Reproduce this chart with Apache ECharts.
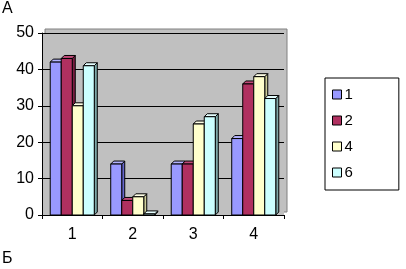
<!DOCTYPE html>
<html><head><meta charset="utf-8">
<script src="https://cdn.jsdelivr.net/npm/echarts@6/dist/echarts.min.js"></script>
<style>html,body{margin:0;padding:0;background:#fff}#c{width:406px;height:269px}</style>
</head><body><div id="c"></div>
<script>
const categories = ['1', '2', '3', '4'];
const seriesNames = ['1', '2', '4', '6'];
const s1 = [42, 14, 14, 21];
const s2 = [43, 4, 14, 36];
const s4 = [30, 5, 25, 38];
const s6 = [41, 0.3, 27, 32];
const yTicks = [0, 10, 20, 30, 40, 50];

const allValues = [s1, s2, s4, s6];
const colors = ['#9999FF', '#B03060', '#FFFFCC', '#CCFFFF'];
const sideColors = ['#6666CC', '#7A1E42', '#CCCC99', '#7FA9A9'];
const topColors = ['#B3B3FF', '#C04A78', '#FFFFE6', '#E6FFFF'];

function makeRender(idx) {
  return function (params, api) {
    const cat = api.value(0), val = api.value(1);
    const base = api.coord([cat, 0]);
    const top = api.coord([cat, val]);
    const band = api.size([1, 0])[0];
    const barW = band * 0.182;
    const x0 = base[0] - barW * 2 + idx * barW;
    const x1 = x0 + barW;
    const d = 3;
    const ty = top[1], by = base[1];
    return {
      type: 'group',
      children: [
        { type: 'polygon', shape: { points: [[x1, ty], [x1 + d, ty - d], [x1 + d, by - d], [x1, by]] },
          style: { fill: sideColors[idx], stroke: '#000', lineWidth: 1 } },
        { type: 'polygon', shape: { points: [[x0, ty], [x0 + d, ty - d], [x1 + d, ty - d], [x1, ty]] },
          style: { fill: topColors[idx], stroke: '#000', lineWidth: 1 } },
        { type: 'rect', shape: { x: x0, y: ty, width: barW, height: by - ty },
          style: { fill: colors[idx], stroke: '#000', lineWidth: 1 } }
      ]
    };
  };
}

const chart = echarts.init(document.getElementById('c'));
chart.setOption({
  animation: false,
  backgroundColor: '#fff',
  textStyle: { fontFamily: 'Liberation Sans, Arial, sans-serif' },
  grid: { left: 42, top: 33, right: 122, bottom: 54, show: true, backgroundColor: '#C0C0C0', borderWidth: 0 },
  graphic: [
    { type: 'rect', z: -10, shape: { x: 45, y: 29, width: 242, height: 183 },
      style: { fill: '#C0C0C0', stroke: '#808080', lineWidth: 1 } },
    { type: 'text', left: 2, top: 1, style: { text: 'А', font: '16px Liberation Sans, Arial', fill: '#000' } },
    { type: 'text', left: 2, top: 251, style: { text: 'Б', font: '16px Liberation Sans, Arial', fill: '#000' } }
  ],
  legend: {
    orient: 'vertical', left: 325, top: 78,
    padding: [9, 46, 10, 7],
    itemGap: 11, itemWidth: 9, itemHeight: 9,
    borderColor: '#000', borderWidth: 1,
    icon: 'rect',
    itemStyle: { borderColor: '#000', borderWidth: 1 },
    textStyle: { fontSize: 15, color: '#000', padding: [0, 0, 0, -2] },
    data: seriesNames
  },
  xAxis: {
    type: 'category', data: categories,
    axisLine: { lineStyle: { color: '#000', width: 1 } },
    axisTick: { show: true, length: 4, lineStyle: { color: '#000' } },
    axisLabel: { color: '#000', fontSize: 16, margin: 12 },
    splitLine: { show: false }
  },
  yAxis: {
    type: 'value', min: 0, max: 50, interval: 10,
    axisLine: { show: true, lineStyle: { color: '#000', width: 1 } },
    axisTick: { show: true, length: 4, lineStyle: { color: '#000' } },
    axisLabel: { color: '#000', fontSize: 16, margin: 8,
      formatter: v => yTicks.includes(v) ? String(v) : '' },
    splitLine: { show: true, lineStyle: { color: '#000', width: 1 } }
  },
  series: seriesNames.map((name, i) => ({
    name: name, type: 'custom',
    itemStyle: { color: colors[i] },
    renderItem: makeRender(i),
    encode: { x: 0, y: 1 },
    data: allValues[i].map((v, k) => [k, v])
  }))
});
</script></body></html>
